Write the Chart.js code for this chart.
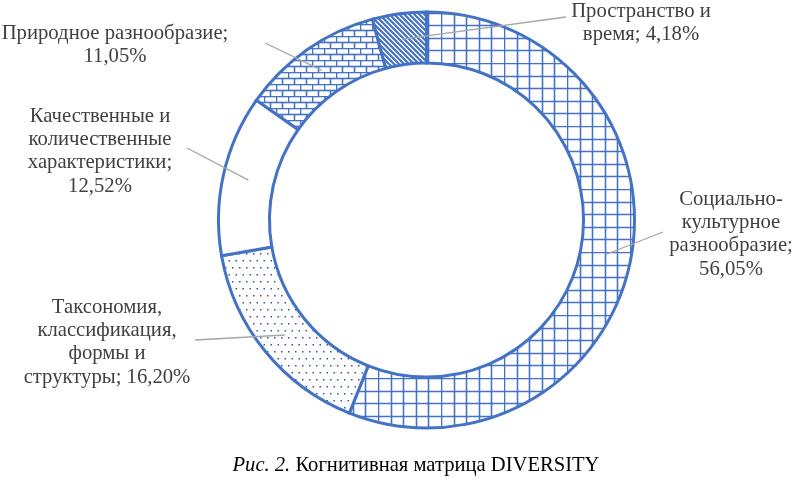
<!DOCTYPE html>
<html>
<head>
<meta charset="utf-8">
<script src="https://cdn.jsdelivr.net/npm/chart.js@4/dist/chart.umd.min.js"></script>
<style>
  html, body { margin: 0; padding: 0; background: #ffffff; }
  #wrap { position: relative; width: 796px; height: 483px; overflow: hidden; }
  #c { position: absolute; left: 0; top: 0; }
  .lbl { position: absolute; font-family: "Liberation Serif", "Times New Roman", serif; font-size: 20.7px; line-height: 23.2px; color: #404040; text-align: center; white-space: nowrap; transform: translateX(-50%); }
  #cap { position: absolute; left: 0; width: 832px; top: 452px; text-align: center; font-family: "Liberation Serif", "Times New Roman", serif; font-size: 20.6px; line-height: 24px; color: #000; white-space: nowrap; }
</style>
</head>
<body>
<div id="wrap">
  <canvas id="c" width="796" height="483"></canvas>
  <div id="cap"><i>Рис. 2.</i> Когнитивная матрица DIVERSITY</div>
</div>
<script>
// ---- data ----
const categories = [
  "Социально-культурное разнообразие",
  "Таксономия, классификация, формы и структуры",
  "Качественные и количественные характеристики",
  "Природное разнообразие",
  "Пространство и время"
];
const values = [56.05, 16.20, 12.52, 11.05, 4.18];
const labelLines = [
  ["Социально-", "культурное", "разнообразие;", "56,05%"],
  ["Таксономия,", "классификация,", "формы и", "структуры; 16,20%"],
  ["Качественные и", "количественные", "характеристики;", "12,52%"],
  ["Природное разнообразие;", "11,05%"],
  ["Пространство и", "время; 4,18%"]
];

// ---- styling / layout (not data) ----
const BLUE = "#4472C4";
const labelPos = [ // label block center x, top y
  {x: 731, y: 187}, {x: 107, y: 295}, {x: 100, y: 104}, {x: 115, y: 21}, {x: 641, y: -1}
];
const leaderStart = [ // start point of leader line near the label
  {x: 663, y: 232}, {x: 195, y: 340}, {x: 187, y: 148}, {x: 265, y: 43}, {x: 566, y: 17}
];

function mkPattern(w, h, draw) {
  const c = document.createElement("canvas");
  c.width = w; c.height = h;
  const g = c.getContext("2d");
  g.fillStyle = "#fff"; g.fillRect(0, 0, w, h);
  draw(g);
  return document.createElement("canvas").getContext("2d").createPattern(c, "repeat");
}
const gridPat = mkPattern(63, 63, g => {
  g.strokeStyle = BLUE; g.lineWidth = 1.6;
  for (let i = 0; i < 5; i++) {
    const p = Math.round(i * 12.6) + 0.5;
    g.beginPath(); g.moveTo(p, 0); g.lineTo(p, 63); g.stroke();
    g.beginPath(); g.moveTo(0, p); g.lineTo(63, p); g.stroke();
  }
});
const dotPat = mkPattern(7, 14, g => {
  g.fillStyle = "#35579a";
  g.fillRect(1, 1, 1.5, 1.5);
  g.fillRect(4.5, 8, 1.5, 1.5);
});
const brickPat = mkPattern(12, 12, g => {
  g.strokeStyle = BLUE; g.lineWidth = 1.6;
  g.beginPath(); g.moveTo(0, 0.5); g.lineTo(12, 0.5); g.stroke();
  g.beginPath(); g.moveTo(0, 6.5); g.lineTo(12, 6.5); g.stroke();
  g.beginPath(); g.moveTo(0.5, 0); g.lineTo(0.5, 6.5); g.stroke();
  g.beginPath(); g.moveTo(6.5, 6.5); g.lineTo(6.5, 12); g.stroke();
});
const diagPat = mkPattern(10, 10, g => {
  g.strokeStyle = BLUE; g.lineWidth = 2.2;
  for (let k = -2; k <= 2; k++) {
    g.beginPath(); g.moveTo(k * 5 - 5, -5); g.lineTo(k * 5 + 15, 15); g.stroke();
  }
});
const fills = [gridPat, dotPat, "#ffffff", brickPat, diagPat];

// labels as HTML text
const wrap = document.getElementById("wrap");
labelLines.forEach((lines, i) => {
  const d = document.createElement("div");
  d.className = "lbl";
  d.style.left = labelPos[i].x + "px";
  d.style.top = labelPos[i].y + "px";
  d.innerHTML = lines.join("<br>");
  wrap.appendChild(d);
});

const leaderPlugin = {
  id: "leaders",
  afterDatasetsDraw(chart) {
    const ctx = chart.ctx;
    const meta = chart.getDatasetMeta(0);
    ctx.save();
    ctx.strokeStyle = "#a6a6a6";
    ctx.lineWidth = 1.3;
    meta.data.forEach((arc, i) => {
      const p = arc.tooltipPosition();
      ctx.beginPath();
      ctx.moveTo(leaderStart[i].x, leaderStart[i].y);
      ctx.lineTo(p.x, p.y);
      ctx.stroke();
    });
    ctx.restore();
  }
};

new Chart(document.getElementById("c"), {
  type: "doughnut",
  data: {
    labels: categories,
    datasets: [{
      data: values,
      backgroundColor: fills,
      borderColor: BLUE,
      borderWidth: 3,
      hoverOffset: 0,
      offset: 0,
      borderJoinStyle: "miter"
    }]
  },
  options: {
    responsive: false,
    animation: false,
    devicePixelRatio: 1,
    cutout: "75.5%",
    layout: { padding: { left: 217, right: 160, top: 10.5, bottom: 53.5 } },
    plugins: { legend: { display: false }, tooltip: { enabled: false } },
    events: []
  },
  plugins: [leaderPlugin]
});
</script>
</body>
</html>
